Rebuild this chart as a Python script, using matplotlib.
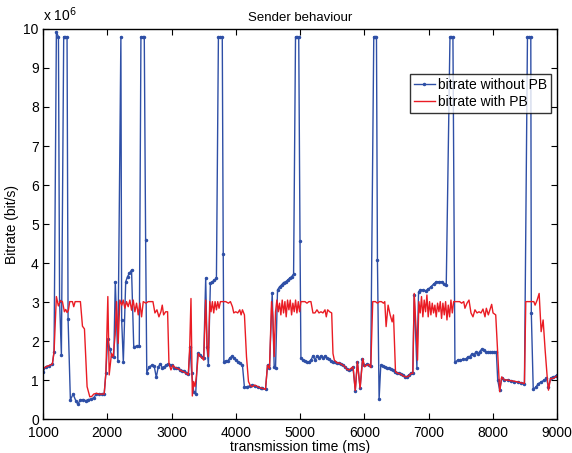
import matplotlib
matplotlib.use("Agg")
import matplotlib.pyplot as plt
import numpy as np

plt.rcParams['font.family'] = ['Liberation Sans', 'DejaVu Sans']

# transmission time (ms) and bitrate (x 10^6 bit/s)
t_without = [1000, 1042, 1094, 1146, 1172, 1208, 1240, 1258, 1286, 1322, 1348, 1374, 1390, 1426, 1468,
             1510, 1541, 1582, 1624, 1666, 1707, 1749, 1790, 1832, 1874, 1915, 1952, 1978, 2006, 2040,
             2071, 2102, 2125, 2165, 2212, 2224, 2250, 2287, 2315, 2345, 2378, 2412, 2456, 2498, 2524,
             2550, 2576, 2597, 2615, 2654, 2695, 2730, 2763, 2794, 2825, 2856, 2887, 2919, 2950, 2981,
             3012, 3043, 3075, 3106, 3137, 3168, 3199, 3231, 3262, 3288, 3314, 3345, 3376, 3407, 3439,
             3470, 3501, 3532, 3553, 3574, 3605, 3636, 3667, 3699, 3730, 3761, 3790, 3805, 3815, 3844,
             3875, 3907, 3938, 3969, 4000, 4031, 4062, 4104, 4135, 4177, 4219, 4260, 4302, 4343, 4385,
             4411, 4463, 4494, 4525, 4567, 4598, 4619, 4650, 4681, 4713, 4744, 4775, 4806, 4837, 4869,
             4900, 4930, 4955, 4980, 5000, 5014, 5045, 5077, 5108, 5139, 5170, 5201, 5233, 5264, 5295,
             5326, 5357, 5389, 5420, 5451, 5482, 5513, 5545, 5576, 5607, 5638, 5669, 5701, 5732, 5763,
             5794, 5825, 5860, 5893, 5935, 5971, 5997, 6039, 6075, 6101, 6148, 6169, 6190, 6205, 6231,
             6257, 6288, 6319, 6351, 6382, 6413, 6444, 6475, 6507, 6538, 6569, 6600, 6631, 6663, 6694,
             6725, 6756, 6777, 6819, 6845, 6871, 6912, 6954, 6995, 7037, 7079, 7120, 7162, 7204, 7235,
             7276, 7334, 7356, 7380, 7411, 7453, 7495, 7536, 7578, 7609, 7640, 7671, 7703, 7734, 7765,
             7796, 7827, 7859, 7890, 7921, 7953, 7984, 8025, 8056, 8077, 8108, 8139, 8181, 8233, 8285,
             8337, 8389, 8441, 8493, 8540, 8566, 8592, 8600, 8630, 8670, 8711, 8753, 8794, 8836, 8867,
             8899, 8940, 8982, 9000]
bitrate_without = [1.21, 1.34, 1.37, 1.41, 1.73, 9.92, 9.80, 3.02, 1.64, 9.80, 9.80, 9.80, 2.56, 0.49, 0.64,
                   0.47, 0.38, 0.49, 0.50, 0.47, 0.50, 0.51, 0.55, 0.64, 0.64, 0.64, 0.64, 1.17, 2.04, 1.80,
                   1.61, 1.60, 3.52, 1.48, 9.80, 2.54, 1.46, 3.52, 3.65, 3.74, 3.82, 1.85, 1.87, 1.87, 9.80,
                   9.80, 9.80, 4.59, 1.19, 1.34, 1.38, 1.36, 1.07, 1.34, 1.41, 1.32, 1.34, 1.38, 1.41, 1.38,
                   1.38, 1.32, 1.32, 1.30, 1.26, 1.24, 1.24, 1.19, 1.15, 1.85, 1.17, 0.70, 0.64, 1.68, 1.64,
                   1.60, 1.56, 3.61, 1.85, 1.38, 3.48, 3.52, 3.56, 3.61, 9.80, 9.80, 9.80, 4.23, 1.47, 1.49,
                   1.49, 1.56, 1.61, 1.56, 1.51, 1.47, 1.43, 1.38, 0.81, 0.83, 0.85, 0.87, 0.85, 0.81, 0.79,
                   0.79, 0.76, 1.38, 1.30, 3.24, 1.34, 1.32, 3.31, 3.39, 3.44, 3.50, 3.52, 3.56, 3.61, 3.65,
                   3.72, 9.80, 9.80, 9.80, 4.57, 1.56, 1.51, 1.49, 1.47, 1.47, 1.51, 1.62, 1.51, 1.62, 1.56,
                   1.62, 1.56, 1.62, 1.56, 1.53, 1.49, 1.47, 1.47, 1.44, 1.44, 1.41, 1.38, 1.34, 1.27, 1.26,
                   1.27, 1.34, 0.73, 1.47, 0.79, 1.53, 1.38, 1.40, 1.38, 1.36, 9.80, 9.80, 9.80, 4.07, 0.51,
                   1.38, 1.36, 1.34, 1.32, 1.30, 1.28, 1.26, 1.21, 1.19, 1.17, 1.15, 1.13, 1.09, 1.09, 1.13,
                   1.17, 1.17, 3.19, 1.32, 3.26, 3.31, 3.31, 3.29, 3.33, 3.39, 3.46, 3.52, 3.52, 3.52, 3.46,
                   3.43, 9.80, 9.80, 9.80, 1.45, 1.51, 1.51, 1.53, 1.53, 1.59, 1.60, 1.66, 1.64, 1.71, 1.66,
                   1.73, 1.79, 1.77, 1.73, 1.71, 1.71, 1.71, 1.71, 1.71, 1.00, 0.74, 1.04, 1.01, 1.00, 0.98,
                   0.96, 0.94, 0.93, 0.91, 9.80, 9.80, 9.80, 2.71, 0.76, 0.82, 0.91, 0.95, 0.99, 1.04, 0.82,
                   1.04, 1.08, 1.10, 1.12]

t_with = [1000, 1042, 1094, 1146, 1172, 1208, 1239, 1270, 1302, 1333, 1354, 1374, 1395, 1416, 1458,
          1478, 1500, 1541, 1582, 1614, 1645, 1686, 1728, 1759, 1790, 1832, 1874, 1915, 1952, 1978,
          2009, 2030, 2066, 2092, 2123, 2144, 2170, 2196, 2227, 2248, 2274, 2300, 2326, 2352, 2378,
          2404, 2430, 2456, 2482, 2508, 2534, 2560, 2602, 2638, 2674, 2711, 2742, 2773, 2804, 2835,
          2856, 2877, 2908, 2939, 2960, 2991, 3023, 3054, 3085, 3116, 3147, 3189, 3231, 3262, 3283,
          3303, 3324, 3345, 3366, 3387, 3418, 3449, 3480, 3501, 3532, 3553, 3574, 3595, 3615, 3636,
          3657, 3678, 3699, 3719, 3740, 3761, 3803, 3844, 3886, 3917, 3948, 3969, 4000, 4031, 4062,
          4083, 4104, 4135, 4167, 4198, 4229, 4260, 4291, 4322, 4364, 4411, 4463, 4494, 4525, 4557,
          4577, 4598, 4619, 4640, 4661, 4681, 4702, 4723, 4744, 4765, 4785, 4806, 4827, 4848, 4869,
          4889, 4910, 4931, 4952, 4973, 4993, 5014, 5045, 5077, 5108, 5139, 5170, 5201, 5233, 5264,
          5295, 5326, 5357, 5389, 5409, 5430, 5461, 5493, 5513, 5534, 5576, 5607, 5638, 5669, 5701,
          5732, 5763, 5794, 5825, 5860, 5893, 5935, 5976, 6007, 6039, 6070, 6101, 6132, 6174, 6205,
          6236, 6267, 6299, 6319, 6340, 6371, 6403, 6434, 6455, 6486, 6527, 6569, 6611, 6652, 6694,
          6725, 6756, 6777, 6808, 6829, 6850, 6871, 6891, 6912, 6933, 6954, 6975, 6995, 7016, 7037,
          7058, 7079, 7099, 7120, 7141, 7162, 7183, 7203, 7224, 7245, 7266, 7287, 7307, 7328, 7349,
          7370, 7391, 7422, 7453, 7484, 7515, 7548, 7567, 7599, 7630, 7661, 7692, 7723, 7755, 7786,
          7817, 7848, 7879, 7900, 7931, 7963, 7983, 8004, 8046, 8077, 8108, 8139, 8181, 8233, 8285,
          8337, 8389, 8441, 8493, 8514, 8545, 8597, 8639, 8659, 8691, 8722, 8753, 8784, 8815, 8847,
          8867, 8899, 8940, 8982, 9000]
bitrate_with = [1.28, 1.34, 1.37, 1.41, 1.73, 3.14, 2.90, 3.03, 3.01, 2.75, 2.81, 2.73, 2.79, 3.01, 3.01,
                2.88, 3.01, 3.01, 3.01, 2.38, 2.31, 0.83, 0.57, 0.58, 0.64, 0.66, 0.64, 0.64, 0.64, 1.17,
                3.14, 1.13, 1.68, 1.60, 2.15, 3.01, 1.94, 3.05, 2.92, 3.05, 2.84, 3.01, 2.88, 3.05, 2.79,
                3.05, 2.75, 2.97, 2.67, 2.97, 2.62, 3.01, 2.97, 3.01, 3.01, 3.01, 2.72, 2.80, 2.62, 2.75,
                2.92, 2.67, 2.75, 2.75, 1.43, 1.26, 1.38, 1.32, 1.30, 1.28, 1.24, 1.21, 1.17, 1.13, 1.85,
                3.09, 0.59, 0.96, 0.83, 1.09, 1.68, 1.60, 1.56, 1.51, 3.05, 1.85, 1.60, 3.01, 2.75, 3.01,
                2.72, 3.01, 2.80, 3.01, 2.84, 3.01, 3.01, 3.01, 2.97, 3.01, 2.88, 2.72, 2.75, 2.72, 2.80,
                2.67, 2.80, 2.67, 1.60, 0.96, 0.85, 0.83, 0.87, 0.85, 0.81, 0.79, 0.76, 1.38, 1.30, 3.01,
                2.62, 1.60, 2.75, 3.05, 2.75, 2.97, 2.67, 3.05, 2.72, 3.01, 2.62, 3.05, 2.80, 3.05, 2.67,
                2.97, 2.75, 3.05, 2.72, 3.01, 2.75, 3.01, 3.01, 3.01, 2.97, 3.01, 3.01, 2.72, 2.72, 2.80,
                2.72, 2.75, 2.72, 2.80, 2.62, 2.80, 2.75, 2.72, 1.68, 1.51, 1.44, 1.44, 1.41, 1.38, 1.34,
                1.27, 1.26, 1.30, 1.34, 0.73, 1.47, 0.79, 1.55, 1.34, 1.38, 1.40, 1.32, 3.01, 3.01, 2.97,
                3.01, 3.01, 2.97, 3.01, 2.37, 2.92, 2.67, 2.49, 2.67, 1.21, 1.17, 1.15, 1.10, 1.08, 1.10,
                1.17, 1.17, 3.22, 2.28, 1.51, 3.01, 2.72, 3.14, 2.62, 3.05, 2.75, 3.18, 2.62, 3.01, 2.67,
                2.97, 2.72, 2.92, 2.62, 2.97, 2.75, 3.01, 2.58, 2.97, 2.67, 3.01, 2.54, 2.92, 2.62, 3.05,
                2.72, 3.01, 3.01, 3.01, 3.01, 2.97, 3.01, 2.84, 2.97, 3.05, 2.72, 2.62, 2.80, 2.72, 2.75,
                2.72, 2.82, 2.62, 2.84, 2.67, 2.84, 2.94, 2.72, 2.67, 1.68, 0.70, 1.08, 1.00, 1.00, 0.98,
                0.97, 0.95, 0.93, 0.91, 3.01, 3.01, 3.01, 3.01, 2.92, 3.05, 3.22, 2.24, 2.54, 1.77, 1.08,
                0.74, 1.04, 1.04, 1.08, 1.10]

x_ticks = [1000, 2000, 3000, 4000, 5000, 6000, 7000, 8000, 9000]
y_ticks = [0, 1, 2, 3, 4, 5, 6, 7, 8, 9, 10]

fig = plt.figure(figsize=(5.72, 4.53), dpi=100)
ax = fig.add_axes([0.0752, 0.075, 0.8986, 0.861])

ax.plot(t_without, bitrate_without, color='#2e4fa6', linewidth=1.0, marker='.', markersize=3,
        label='bitrate without PB')
ax.plot(t_with, bitrate_with, color='#ea1c24', linewidth=1.0, label='bitrate with PB')

ax.set_xlim(1000, 9000)
ax.set_ylim(0, 10)
ax.set_xticks(x_ticks)
ax.set_yticks(y_ticks)
ax.tick_params(direction='in', top=True, right=True, length=4, width=0.8, labelsize=10)
ax.tick_params(axis='x', pad=5)
ax.tick_params(axis='y', pad=3)
for s in ax.spines.values():
    s.set_linewidth(1.0)

ax.set_title('Sender behaviour', fontsize=9.5, pad=6)
ax.set_xlabel('transmission time (ms)', fontsize=10, labelpad=0)
ax.set_ylabel('Bitrate (bit/s)', fontsize=10, labelpad=3)
ax.text(0.0, 1.012, r'x 10$^{6}$', transform=ax.transAxes, fontsize=10, ha='left', va='bottom')

leg = ax.legend(loc='upper right', bbox_to_anchor=(0.988, 0.885), fontsize=10, frameon=True,
                fancybox=False, edgecolor='black', handlelength=1.5, borderpad=0.3,
                labelspacing=0.2, handletextpad=0.2, borderaxespad=0.0)
leg.get_frame().set_linewidth(1.0)

fig.savefig('out.png', dpi=100)
